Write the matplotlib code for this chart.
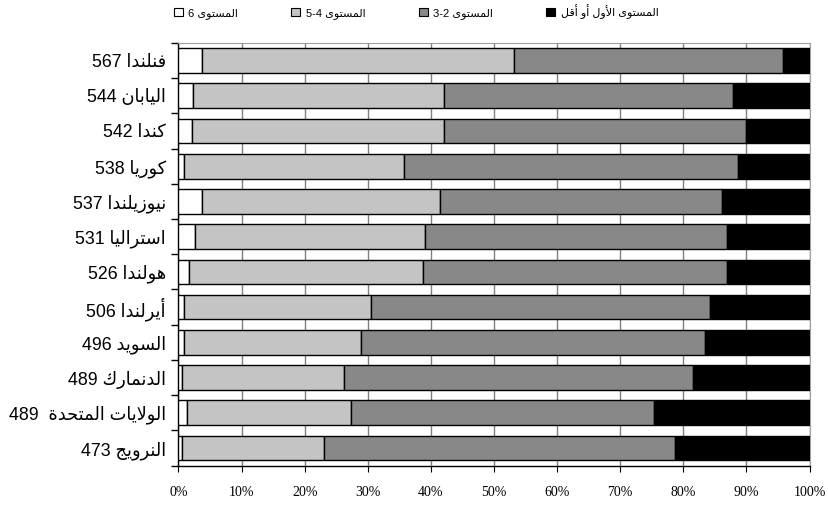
import matplotlib
matplotlib.use("Agg")
import matplotlib.pyplot as plt
import numpy as np
from matplotlib.patches import Patch

# countries (logical Arabic text) with mean scores, top to bottom
countries = ["فنلندا", "اليابان", "كندا", "كوريا", "نيوزيلندا", "استراليا",
             "هولندا", "أيرلندا", "السويد", "الدنمارك", "الولايات المتحدة", "النرويج"]
scores = [567, 544, 542, 538, 537, 531, 526, 506, 496, 489, 489, 473]

# percentage of students in each proficiency band
level6 = [3.8, 2.3, 2.2, 0.9, 3.8, 2.6, 1.6, 0.9, 0.9, 0.5, 1.3, 0.5]
level54 = [49.3, 39.8, 39.9, 34.9, 37.6, 36.5, 37.1, 29.6, 28.0, 25.7, 26.0, 22.5]
level32 = [42.7, 45.7, 47.9, 52.8, 44.8, 47.8, 48.2, 53.8, 54.5, 55.3, 48.1, 55.7]
level1 = [4.2, 12.2, 10.0, 11.4, 13.8, 13.1, 13.1, 15.7, 16.6, 18.5, 24.6, 21.3]

series_names = ["المستوى", "المستوى", "المستوى", "المستوى الأول أو أقل"]
series_suffix = ["6", "5-4", "3-2", ""]
colors = ["#ffffff", "#c4c4c4", "#888888", "#000000"]

# minimal Arabic shaping: (isolated, final, initial, medial)
FORMS = {
    "ا": (0xFE8D, 0xFE8E, None, None), "أ": (0xFE83, 0xFE84, None, None),
    "ب": (0xFE8F, 0xFE90, 0xFE91, 0xFE92), "ة": (0xFE93, 0xFE94, None, None),
    "ت": (0xFE95, 0xFE96, 0xFE97, 0xFE98), "ج": (0xFE9D, 0xFE9E, 0xFE9F, 0xFEA0),
    "ح": (0xFEA1, 0xFEA2, 0xFEA3, 0xFEA4), "د": (0xFEA9, 0xFEAA, None, None),
    "ر": (0xFEAD, 0xFEAE, None, None), "ز": (0xFEAF, 0xFEB0, None, None),
    "س": (0xFEB1, 0xFEB2, 0xFEB3, 0xFEB4), "ف": (0xFED1, 0xFED2, 0xFED3, 0xFED4),
    "ق": (0xFED5, 0xFED6, 0xFED7, 0xFED8), "ك": (0xFED9, 0xFEDA, 0xFEDB, 0xFEDC),
    "ل": (0xFEDD, 0xFEDE, 0xFEDF, 0xFEE0), "م": (0xFEE1, 0xFEE2, 0xFEE3, 0xFEE4),
    "ن": (0xFEE5, 0xFEE6, 0xFEE7, 0xFEE8), "ه": (0xFEE9, 0xFEEA, 0xFEEB, 0xFEEC),
    "و": (0xFEED, 0xFEEE, None, None), "ى": (0xFEEF, 0xFEF0, None, None),
    "ي": (0xFEF1, 0xFEF2, 0xFEF3, 0xFEF4),
    "لا": (0xFEFB, 0xFEFC, None, None), "لأ": (0xFEF7, 0xFEF8, None, None),
}


def shape(text):
    units = []
    i = 0
    while i < len(text):
        if text[i] == "ل" and i + 1 < len(text) and text[i + 1] in "اأ":
            units.append(text[i:i + 2])
            i += 2
        else:
            units.append(text[i])
            i += 1
    out = []
    for k, u in enumerate(units):
        if u not in FORMS:
            out.append(u)
            continue
        prev = units[k - 1] if k > 0 else None
        nxt = units[k + 1] if k + 1 < len(units) else None
        prev_joins = prev in FORMS and FORMS[prev][2] is not None
        iso, fin, ini, med = FORMS[u]
        next_joins = ini is not None and nxt in FORMS
        if prev_joins and next_joins:
            code = med
        elif prev_joins:
            code = fin
        elif next_joins:
            code = ini
        else:
            code = iso
        out.append(chr(code))
    return "".join(out)[::-1]


labels = []
for name, score in zip(countries, scores):
    gap = "  " if " " in name else " "
    labels.append(f"{score}{gap}{shape(name)}")

fig = plt.figure(figsize=(8.29, 5.05), dpi=100)
ax = fig.add_axes([0.2153, 0.078, 0.7612, 0.837])

y = np.arange(len(countries))
left = np.zeros(len(countries))
handles = []
for values, color, name, suffix in zip([level6, level54, level32, level1], colors,
                                       series_names, series_suffix):
    ax.barh(y, values, left=left, height=0.7, color=color, edgecolor="black",
            linewidth=1.0, zorder=3)
    left += np.array(values)
    text = f"{suffix} {shape(name)}" if suffix else shape(name)
    handles.append(Patch(facecolor=color, edgecolor="black", linewidth=0.8, label=text))

ax.set_xlim(0, 100)
ax.set_ylim(len(countries) - 0.5, -0.5)
ax.set_xticks(np.arange(0, 101, 10))
ax.set_xticklabels([f"{v}%" for v in range(0, 101, 10)], family="Liberation Serif", fontsize=10)
ax.tick_params(axis="x", length=4, width=0.8, direction="out", pad=11)
ax.set_yticks(y)
ax.set_yticklabels(labels, family=["Liberation Sans", "DejaVu Sans"], fontsize=12.8)
ax.tick_params(axis="y", length=0, pad=9)
ax.set_yticks(np.arange(-0.5, len(countries)), minor=True)
ax.tick_params(axis="y", which="minor", length=5, width=1, direction="out")

ax.grid(axis="x", color="#808080", linewidth=1.0, zorder=0)
ax.set_axisbelow(True)
for side in ["top", "right"]:
    ax.spines[side].set_color("#a0a0a0")
for side in ["left", "bottom"]:
    ax.spines[side].set_color("black")
    ax.spines[side].set_linewidth(1.0)

fig.legend(handles=handles, loc="upper center", bbox_to_anchor=(0.502, 1.012), ncol=4,
           frameon=False, handlelength=0.8, handleheight=0.8, handletextpad=0.5,
           columnspacing=4.8, prop={"family": ["Liberation Sans", "DejaVu Sans"], "size": 8})

fig.savefig("out.png", dpi=100)
